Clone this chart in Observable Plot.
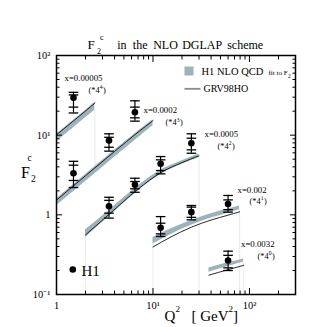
<!DOCTYPE html>
<html><head><meta charset="utf-8">
<script src="https://cdn.jsdelivr.net/npm/d3@7"></script>
<script src="https://cdn.jsdelivr.net/npm/@observablehq/plot@0.6"></script>
<style>body{margin:0;background:#fff}</style>
</head><body><div id="chart"></div>
<script>
// ---------- data ----------
// H1 NLO QCD fit bands (lo/hi) and GRV98HO curves, per x bin (scaled by 4^n)
const b1Q2 = [1, 1.5, 2, 2.5];
const b1Lo = [8.3, 12.4, 16.5, 20.6];
const b1Hi = [10.3, 15.4, 20.5, 25.8];
const b1Grv = [10.1, 15.1, 20.1, 25.3];

const b2Q2 = [1, 2, 4, 7, 10];
const b2Lo = [1.3, 2.62, 5.3, 9.2, 13.1];
const b2Hi = [1.58, 3.2, 6.45, 11.2, 15.6];
const b2Grv = [1.53, 3.1, 6.25, 10.9, 15.2];

const b3Q2 = [2, 3.46, 7, 12, 20, 30];
const b3Lo = [0.52, 0.94, 1.98, 3.2, 4.3, 5.25];
const b3Hi = [0.65, 1.12, 2.3, 3.62, 4.78, 5.8];
const b3Grv = [0.56, 1.0, 2.1, 3.38, 4.52, 5.5];

const b4Q2 = [10, 15, 25, 40, 60, 79];
const b4Lo = [0.43, 0.56, 0.74, 0.91, 1.05, 1.16];
const b4Hi = [0.52, 0.66, 0.85, 1.03, 1.18, 1.29];
const b4Grv = [0.395, 0.52, 0.70, 0.86, 0.99, 1.09];

const b5Q2 = [38, 60, 87];
const b5Lo = [0.19, 0.225, 0.255];
const b5Hi = [0.215, 0.25, 0.28];
const b5Grv = [0.175, 0.205, 0.232];

const binLabels = ["x=0.00005", "x=0.0002", "x=0.0005", "x=0.002", "x=0.0032"];
const binPowers = ["4", "3", "2", "1", "0"];

// kinematic boundary guides
const guideQ2 = [2.5, 2, 10, 30, 79, 87];
const guideFrom = [20.6, 0.52, 0.43, 5.25, 1.16, 0.255];
const guideTo = [3.9, 0.1, 0.1, 0.1, 0.1, 0.1];

// H1 data points
const ptQ2 = [1.5, 1.5, 3.5, 6.5, 3.5, 6.5, 12, 25, 12, 25, 60, 60];
const ptF2 = [29.4, 3.33, 8.55, 19.4, 1.28, 2.38, 4.37, 7.91, 0.687, 1.08, 1.37, 0.267];
const ptStatLo = [22.5, 2.7, 7.05, 16.5, 1.05, 2.12, 3.6, 6.54, 0.577, 0.93, 1.16, 0.216];
const ptStatHi = [32, 4.2, 9.4, 22.5, 1.52, 2.62, 4.9, 9.15, 0.785, 1.25, 1.54, 0.31];
const ptTotLo = [19, 2.2, 6.3, 15, 0.91, 1.92, 3.27, 5.93, 0.535, 0.865, 1.08, 0.2];
const ptTotHi = [34.5, 4.7, 10.4, 27, 1.66, 2.88, 5.39, 10.4, 0.95, 1.31, 1.75, 0.35];

// ticks
const xMajor = [1, 10, 100];
const xMajorLabels = ["1", "10\u00B9", "10\u00B2"];
const xMinor = [2,3,4,5,6,7,8,9,20,30,40,50,60,70,80,90,200];
const yMajor = [0.1, 1, 10, 100];
const yMajorLabels = ["10\u207B\u00B9", "1", "10\u00B9", "10\u00B2"];
const yMinor = [0.2,0.3,0.4,0.5,0.6,0.7,0.8,0.9,2,3,4,5,6,7,8,9,20,30,40,50,60,70,80,90];

// ---------- build tables ----------
const bands = [
  [b1Q2, b1Lo, b1Hi, b1Grv], [b2Q2, b2Lo, b2Hi, b2Grv], [b3Q2, b3Lo, b3Hi, b3Grv],
  [b4Q2, b4Lo, b4Hi, b4Grv], [b5Q2, b5Lo, b5Hi, b5Grv]
].flatMap(([q, lo, hi, g], b) => q.map((v, i) => ({band: binLabels[b], q2: v, lo: lo[i], hi: hi[i], grv: g[i]})));
const guides = guideQ2.map((q, i) => ({q2: q, from: guideFrom[i], to: guideTo[i]}));
const points = ptQ2.map((q, i) => ({q2: q, f2: ptF2[i], sLo: ptStatLo[i], sHi: ptStatHi[i], tLo: ptTotLo[i], tHi: ptTotHi[i]}));

// ---------- styling ----------
const W = 327, H = 327, ML = 56, MR = 32, MT = 55, MB = 33;
const SERIF = "Liberation Serif, Times New Roman, serif";
const BAND = "#9db3ba";
const capSymbol = {draw(ctx, size) { const r = Math.sqrt(size / Math.PI); ctx.moveTo(-r, 0); ctx.lineTo(r, 0); }};

function label(text, X, Y, size, extra = {}) {
  return Plot.text([text], {text: d => d, frameAnchor: "top-left", dx: X - ML, dy: Y - MT,
    lineAnchor: "bottom", textAnchor: "start", fontFamily: SERIF, fontSize: size, fill: "black", ...extra});
}
// "(*4^n)" with a true small superscript
function scaleLabel(n, X, Y) {
  return [label("(*4", X, Y, 8.3), label(n, X + 11.2, Y - 3.2, 5.6), label(")", X + 14.4, Y, 8.3)];
}

const binLabelPos = [[64, 80], [143, 112], [204, 136], [237, 192], [240.5, 246]];
const binScalePos = [[88, 92], [165, 124.5], [217, 148], [249, 203], [257, 258]];

const chart = Plot.plot({
  width: W, height: H, marginLeft: ML, marginRight: MR, marginTop: MT, marginBottom: MB,
  style: {fontFamily: SERIF, background: "white", color: "black"},
  x: {type: "log", domain: [1, 300]},
  y: {type: "log", domain: [0.1, 100]},
  marks: [
    Plot.ruleX(guides, {x: "q2", y1: "from", y2: "to", stroke: "#e4e4e4", strokeWidth: 0.8}),
    Plot.areaY(bands, {x: "q2", y1: "lo", y2: "hi", z: "band", fill: BAND, curve: "monotone-x"}),
    Plot.line(bands, {x: "q2", y: "grv", z: "band", stroke: "#111", strokeWidth: 0.9, curve: "monotone-x"}),
    // error bars
    Plot.ruleX(points, {x: "q2", y1: "tLo", y2: "tHi", stroke: "black", strokeWidth: 1.2}),
    ...["sLo", "sHi", "tLo", "tHi"].map(k => Plot.dot(points, {x: "q2", y: k, symbol: capSymbol, r: 4.8, fill: "none", stroke: "black", strokeWidth: 1.3})),
    Plot.dot(points, {x: "q2", y: "f2", r: 3.3, fill: "black"}),
    // axes: inward ticks on all four sides
    Plot.axisX(xMajor, {anchor: "bottom", tickSize: -6, fill: "none", label: null}),
    Plot.axisX(xMajor, {anchor: "top", tickSize: -6, fill: "none", label: null}),
    Plot.axisX(xMinor, {anchor: "bottom", tickSize: -3.5, fill: "none", label: null}),
    Plot.axisX(xMinor, {anchor: "top", tickSize: -3.5, fill: "none", label: null}),
    Plot.axisY(yMajor, {anchor: "left", tickSize: -6, fill: "none", label: null}),
    Plot.axisY(yMajor, {anchor: "right", tickSize: -6, fill: "none", label: null}),
    Plot.axisY(yMinor, {anchor: "left", tickSize: -3.5, fill: "none", label: null}),
    Plot.axisY(yMinor, {anchor: "right", tickSize: -3.5, fill: "none", label: null}),
    Plot.axisX(xMajor, {anchor: "bottom", tickSize: 0, tickPadding: 7, label: null, fontSize: 10.5, fontFamily: SERIF,
      tickFormat: d => xMajorLabels[xMajor.indexOf(d)]}),
    Plot.axisY(yMajor, {anchor: "left", tickSize: 0, tickPadding: 6, label: null, fontSize: 10.5, fontFamily: SERIF,
      tickFormat: d => yMajorLabels[yMajor.indexOf(d)]}),
    Plot.frame({stroke: "black", strokeWidth: 1.5}),
    // bin labels
    ...binLabels.map((t, i) => label(t, binLabelPos[i][0], binLabelPos[i][1], 8.8)),
    ...binPowers.flatMap((n, i) => scaleLabel(n, binScalePos[i][0], binScalePos[i][1])),
    // legend
    Plot.dot([0], {frameAnchor: "top-left", dx: 188.5 - ML, dy: 70.5 - MT, symbol: "square", r: 5.1, fill: BAND}),
    label("H1 NLO QCD", 201, 74.8, 10.5),
    label("fit to F", 268, 74.8, 7),
    label("2", 287.5, 77, 5.5),
    Plot.dot([0], {frameAnchor: "top-left", dx: 192 - ML, dy: 88.3 - MT, symbol: capSymbol, r: 8, fill: "none", stroke: "#8a8a8a", strokeWidth: 1.8}),
    label("GRV98HO", 203, 91.8, 10),
    Plot.dot([0], {frameAnchor: "top-left", dx: 72.3 - ML, dy: 269 - MT, r: 3.3, fill: "black"}),
    label("H1", 81, 275, 15),
    // title
    label("F", 87, 48.5, 13),
    label("2", 96.5, 53, 8),
    label("c", 99.5, 39, 8.5),
    label("in", 116.7, 48.5, 12),
    label("the", 132.3, 48.5, 12),
    label("NLO", 152.7, 48.5, 12),
    label("DGLAP", 181.7, 48.5, 12),
    label("scheme", 226.7, 48.5, 12),
    // y label
    label("F", 20.5, 177, 16),
    label("c", 27, 160, 9.5),
    label("2", 30.5, 181.5, 9.5),
    // x label
    label("Q", 164, 320, 15),
    label("2", 175, 311, 9),
    label("[ GeV", 191, 320, 15),
    label("2", 228, 311, 9),
    label("]", 232.5, 320, 15)
  ]
});
document.getElementById("chart").appendChild(chart);
</script>
</body></html>
